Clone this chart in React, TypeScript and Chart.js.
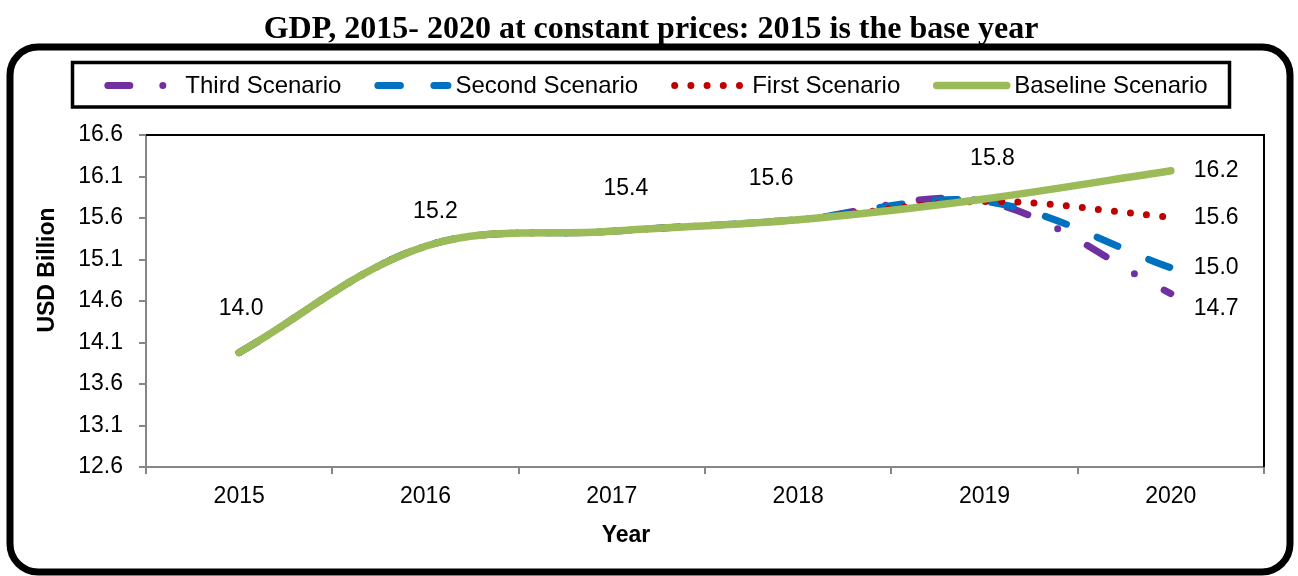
import React, { useEffect, useRef } from "react";
import { Chart, registerables } from "chart.js";

Chart.register(...registerables);

// ---------- data ----------
const years = ["2015", "2016", "2017", "2018", "2019", "2020"];
const baselineScenario = [13.98, 15.26, 15.44, 15.58, 15.83, 16.17];
const firstScenario = [13.98, 15.26, 15.44, 15.58, 15.8, 15.61];
const secondScenario = [13.98, 15.26, 15.44, 15.58, 15.8, 15.0];
const thirdScenario = [13.98, 15.26, 15.44, 15.58, 15.8, 14.69];

const yMin = 12.6;
const yMax = 16.6;
const yStep = 0.5;

// value labels shown on the chart (as printed in the original)
const baselinePointLabels = ["14.0", "15.2", "15.4", "15.6", "15.8"];
// end-of-line labels for 2020: baseline, first, second, third
const endLabels = ["16.2", "15.6", "15.0", "14.7"];

const titleText = "GDP, 2015- 2020 at constant prices: 2015 is the base year";
const yTitle = "USD Billion";
const xTitle = "Year";

// ---------- styles ----------
const SANS = '"Liberation Sans", Arial, sans-serif';
const SERIF = '"Liberation Serif", "Times New Roman", serif';
const GREEN = "#9BBB59";
const RED = "#C00000";
const BLUE = "#0070C0";
const PURPLE = "#7030A0";
const AXIS_GREY = "#868686";

const DASH_THIRD = [22, 33, 0, 34];
const DASH_SECOND = [22.5, 33.5];
const DASH_FIRST = [0, 16.2];

// label offsets (pixels) relative to their points
const baselineLabelOffsets = [
  [2, -44],
  [10, -35],
  [14, -43],
  [-27, -41],
  [8, -40],
];
const endLabelOffsetX = 23;
const endLabelOffsetsY = [0, 0, 0, 15];

const legendItems = [
  { name: "Third Scenario", color: PURPLE, dash: DASH_THIRD, width: 7 },
  { name: "Second Scenario", color: BLUE, dash: DASH_SECOND, width: 7 },
  { name: "First Scenario", color: RED, dash: DASH_FIRST, width: 7 },
  { name: "Baseline Scenario", color: GREEN, dash: [], width: 7.5 },
];

const decorPlugin = {
  id: "decor",
  beforeDraw(chart: any) {
    const ctx = chart.ctx as CanvasRenderingContext2D;
    const W = chart.width;
    const H = chart.height;
    ctx.save();
    ctx.fillStyle = "#fff";
    ctx.fillRect(0, 0, W, H);

    // title
    ctx.fillStyle = "#000";
    ctx.font = `bold 32px ${SERIF}`;
    ctx.textAlign = "center";
    ctx.textBaseline = "alphabetic";
    ctx.fillText(titleText, 651, 38);

    // rounded outer frame
    const x0 = 10, y0 = 47, x1 = 1290, y1 = 572, r = 28;
    ctx.beginPath();
    ctx.moveTo(x0 + r, y0);
    ctx.lineTo(x1 - r, y0);
    ctx.arcTo(x1, y0, x1, y0 + r, r);
    ctx.lineTo(x1, y1 - r);
    ctx.arcTo(x1, y1, x1 - r, y1, r);
    ctx.lineTo(x0 + r, y1);
    ctx.arcTo(x0, y1, x0, y1 - r, r);
    ctx.lineTo(x0, y0 + r);
    ctx.arcTo(x0, y0, x0 + r, y0, r);
    ctx.closePath();
    ctx.lineWidth = 7;
    ctx.strokeStyle = "#000";
    ctx.stroke();

    // legend box
    ctx.lineWidth = 3.5;
    ctx.strokeRect(72.5, 62.5, 1157, 44.5);

    // legend items
    ctx.font = `24px ${SANS}`;
    ctx.textAlign = "left";
    const symLen = 77;
    const gap = 4;
    const pad = 33;
    const widths = legendItems.map((it) => symLen + gap + ctx.measureText(it.name).width);
    const total = widths.reduce((a, b) => a + b, 0) + pad * (legendItems.length - 1);
    let x = 656 - total / 2;
    const ly = 85.5;
    legendItems.forEach((it, i) => {
      ctx.save();
      ctx.beginPath();
      ctx.setLineDash(it.dash);
      ctx.lineCap = "round";
      ctx.lineWidth = it.width;
      ctx.strokeStyle = it.color;
      ctx.moveTo(x + 3.5, ly);
      ctx.lineTo(x + symLen - 3.5, ly);
      ctx.stroke();
      ctx.restore();
      ctx.fillStyle = "#000";
      ctx.textBaseline = "alphabetic";
      ctx.fillText(it.name, x + symLen + gap, 93);
      x += widths[i] + pad;
    });

    // axis titles
    ctx.font = `bold 23px ${SANS}`;
    ctx.textAlign = "center";
    ctx.textBaseline = "middle";
    ctx.fillText(xTitle, 626, 536);
    ctx.save();
    ctx.translate(48, 270);
    ctx.rotate(-Math.PI / 2);
    ctx.fillText(yTitle, 0, 0);
    ctx.restore();
    ctx.restore();
  },
  afterDraw(chart: any) {
    const ctx = chart.ctx as CanvasRenderingContext2D;
    const a = chart.chartArea;
    ctx.save();
    // plot area black top & right border
    ctx.strokeStyle = "#000";
    ctx.lineWidth = 2;
    ctx.beginPath();
    ctx.moveTo(a.left, a.top);
    ctx.lineTo(a.right, a.top);
    ctx.lineTo(a.right, a.bottom);
    ctx.stroke();

    // data labels
    ctx.fillStyle = "#000";
    ctx.font = `23px ${SANS}`;
    ctx.textBaseline = "middle";
    ctx.textAlign = "center";
    const base = chart.getDatasetMeta(0).data;
    baselinePointLabels.forEach((t, i) => {
      const p = base[i];
      ctx.fillText(t, p.x + baselineLabelOffsets[i][0], p.y + baselineLabelOffsets[i][1]);
    });
    ctx.textAlign = "left";
    endLabels.forEach((t, di) => {
      const pts = chart.getDatasetMeta(di).data;
      const p = pts[pts.length - 1];
      ctx.fillText(t, p.x + endLabelOffsetX, p.y + endLabelOffsetsY[di]);
    });
    ctx.restore();
  },
};

export default function App() {
  const ref = useRef<HTMLCanvasElement | null>(null);
  useEffect(() => {
    if (!ref.current) return;
    const tickFont = { family: SANS, size: 23 };
    const chart = new Chart(ref.current, {
      type: "line",
      data: {
        labels: years,
        datasets: [
          {
            label: "Baseline Scenario",
            data: baselineScenario,
            borderColor: GREEN,
            borderWidth: 7.5,
          },
          {
            label: "First Scenario",
            data: firstScenario,
            borderColor: RED,
            borderWidth: 7,
            borderDash: DASH_FIRST,
          },
          {
            label: "Second Scenario",
            data: secondScenario,
            borderColor: BLUE,
            borderWidth: 7,
            borderDash: DASH_SECOND,
          },
          {
            label: "Third Scenario",
            data: thirdScenario,
            borderColor: PURPLE,
            borderWidth: 7,
            borderDash: DASH_THIRD,
          },
        ],
      },
      options: {
        animation: false,
        responsive: false,
        maintainAspectRatio: false,
        layout: { padding: { left: 80, right: 34, top: 135, bottom: 69 } },
        plugins: {
          legend: { display: false },
          title: { display: false },
          tooltip: { enabled: false },
        },
        elements: {
          point: { radius: 0, hoverRadius: 0 },
          line: {
            tension: 0.35,
            borderCapStyle: "round",
            borderJoinStyle: "round",
            fill: false,
          },
        },
        scales: {
          x: {
            type: "category",
            offset: true,
            grid: {
              offset: true,
              drawOnChartArea: false,
              drawTicks: true,
              tickLength: 7,
              color: AXIS_GREY,
              lineWidth: 2,
            },
            border: { color: AXIS_GREY, width: 2 },
            ticks: { font: tickFont, color: "#000", padding: 9, maxRotation: 0 },
            afterFit: (s: any) => {
              s.height = 40;
            },
          },
          y: {
            min: yMin,
            max: yMax,
            grid: {
              drawOnChartArea: false,
              drawTicks: true,
              tickLength: 7,
              color: AXIS_GREY,
              lineWidth: 2,
            },
            border: { color: AXIS_GREY, width: 2 },
            ticks: {
              stepSize: yStep,
              font: tickFont,
              color: "#000",
              padding: 16,
              callback: (v: any) => Number(v).toFixed(1),
            },
            afterFit: (s: any) => {
              s.width = 66;
            },
          },
        },
      },
      plugins: [decorPlugin],
    } as any);
    return () => chart.destroy();
  }, []);

  return (
    <div style={{ position: "fixed", left: 0, top: 0, width: 1298, height: 576, background: "#fff" }}>
      <canvas ref={ref} width={1298} height={576} style={{ display: "block" }} />
    </div>
  );
}
